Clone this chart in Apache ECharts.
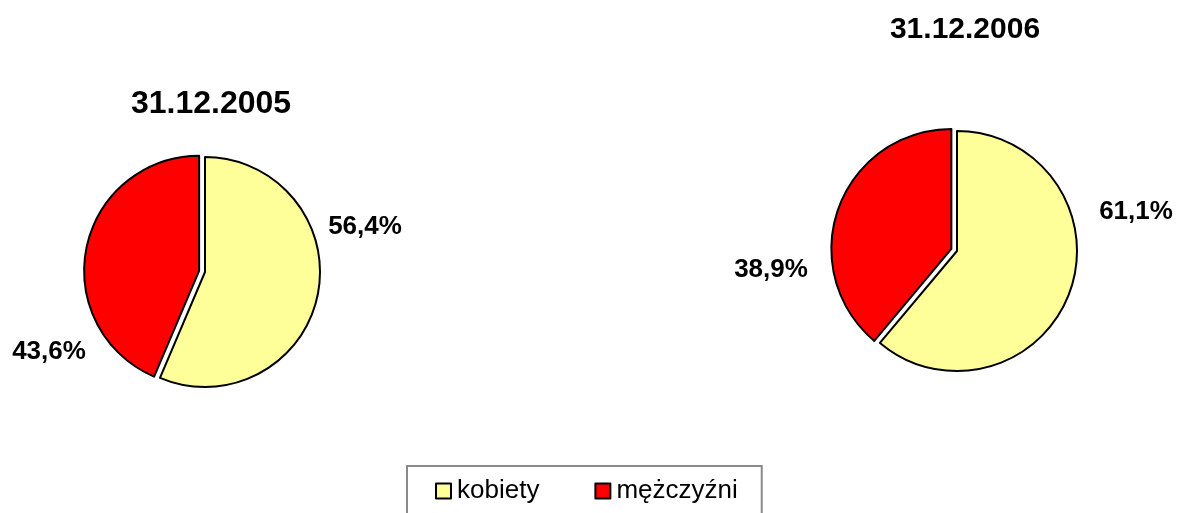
<!DOCTYPE html>
<html>
<head>
<meta charset="utf-8">
<script src="https://cdn.jsdelivr.net/npm/echarts@6/dist/echarts.min.js"></script>
<style>
  html, body { margin: 0; padding: 0; background: #fff; }
  #chart { width: 1177px; height: 513px; }
</style>
</head>
<body>
<div id="chart"></div>
<script>
// Gender structure at two dates (percent)
const categories = ['kobiety', 'mężczyźni'];
const dates = ['31.12.2005', '31.12.2006'];
const values2005 = [56.4, 43.6];
const values2006 = [61.1, 38.9];

const colors = ['#FFFF99', '#FF0000'];
const FONT = '"Liberation Sans", Arial, sans-serif';
const EXPLODE = 6; // pull-out distance of the second slice, px

// Pie placement and value-label anchors for each chart
const pieLayout = [
  { center: [205, 272], radius: 115, title: [211, 104], titleSize: 32,
    labels: [[365, 227], [49, 352]] },
  { center: [957, 251], radius: 120, title: [965, 30], titleSize: 30,
    labels: [[1136, 212], [771, 270]] }
];

const fmt = v => v.toFixed(1).replace('.', ',') + '%';

// Centre of the pulled-out slice: shifted along its own bisector
function explodedCenter(values, center) {
  const total = values.reduce((a, b) => a + b, 0);
  const midFrac = (values[0] + values[1] / 2) / total; // clockwise from 12 o'clock
  const ang = midFrac * 2 * Math.PI;
  return [center[0] + Math.sin(ang) * EXPLODE, center[1] - Math.cos(ang) * EXPLODE];
}

function buildSeries(values, idx) {
  const lay = pieLayout[idx];
  const common = {
    type: 'pie',
    radius: lay.radius,
    startAngle: 90,
    clockwise: true,
    avoidLabelOverlap: false,
    animation: false,
    emphasis: { disabled: true },
    labelLine: { show: false }
  };
  // main pie: first slice drawn, all value labels
  const main = Object.assign({}, common, {
    name: dates[idx],
    center: lay.center,
    label: {
      show: true,
      position: 'inside',
      formatter: p => fmt(p.value),
      fontFamily: FONT,
      fontWeight: 'bold',
      fontSize: 26,
      color: '#000',
      textBorderWidth: 0
    },
    labelLayout: p => ({
      x: lay.labels[p.dataIndex][0],
      y: lay.labels[p.dataIndex][1],
      align: 'center',
      verticalAlign: 'middle'
    }),
    data: categories.map((c, i) => ({
      name: c,
      value: values[i],
      itemStyle: i === 0
        ? { color: colors[i], borderColor: '#000', borderWidth: 2 }
        : { color: 'rgba(0,0,0,0)', borderWidth: 0 }
    }))
  });
  // exploded slice drawn on its shifted centre
  const pulled = Object.assign({}, common, {
    name: dates[idx] + ' ',
    center: explodedCenter(values, lay.center),
    silent: true,
    label: { show: false },
    data: categories.map((c, i) => ({
      name: c,
      value: values[i],
      itemStyle: i === 1
        ? { color: colors[i], borderColor: '#000', borderWidth: 2 }
        : { color: 'rgba(0,0,0,0)', borderWidth: 0 }
    }))
  });
  return [main, pulled];
}

const chart = echarts.init(document.getElementById('chart'), null, { renderer: 'canvas' });
chart.setOption({
  backgroundColor: '#fff',
  animation: false,
  title: pieLayout.map((lay, i) => ({
    text: dates[i],
    left: lay.title[0],
    top: lay.title[1],
    textAlign: 'center',
    textVerticalAlign: 'middle',
    padding: 0,
    textStyle: { fontFamily: FONT, fontWeight: 'bold', fontSize: lay.titleSize, color: '#000' }
  })),
  legend: {
    data: categories.map((c, i) => ({
      name: c,
      itemStyle: { color: colors[i], borderColor: '#000', borderWidth: 2 }
    })),
    left: 407,
    top: 466,
    orient: 'horizontal',
    itemWidth: 15,
    itemHeight: 15,
    itemGap: 55,
    padding: [12, 24, 30, 28],
    borderColor: '#8a8a8a',
    borderWidth: 2,
    selectedMode: false,
    icon: 'rect',
    textStyle: { fontFamily: FONT, fontSize: 26, color: '#000', padding: [0, 0, 0, 1] }
  },
  series: [].concat(buildSeries(values2005, 0), buildSeries(values2006, 1))
});
</script>
</body>
</html>
